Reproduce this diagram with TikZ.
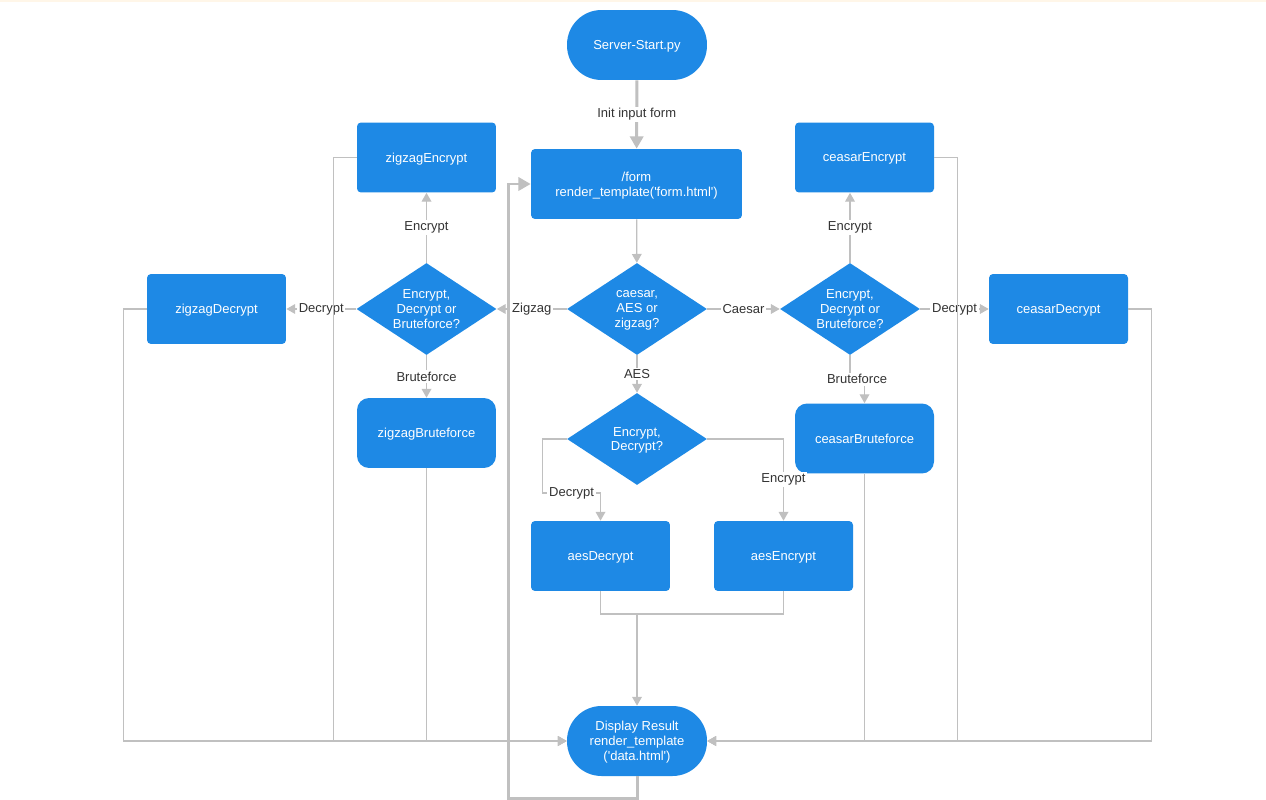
\documentclass[tikz,border=0pt]{standalone}
\usepackage{fontspec}
\setmainfont{Liberation Sans}
\usepackage{xcolor}
\usetikzlibrary{shapes.geometric,arrows.meta,positioning}
\definecolor{flowblue}{RGB}{30,137,229}
\definecolor{linegrey}{RGB}{192,192,192}
\definecolor{labeltext}{RGB}{51,51,51}
\definecolor{topline}{RGB}{255,246,232}
\newcommand{\flowfont}{\fontsize{7.4}{8.5}\selectfont}
\tikzset{
    task-box/.style = {fill=flowblue, draw=none, rectangle, rounded corners=0.08cm, minimum width=2.78cm, minimum height=1.4cm, text=white, font=\flowfont, align=center, text depth=0pt},
    soft-box/.style = {task-box, rounded corners=0.24cm},
    end-box/.style = {task-box, minimum width=2.8cm, rounded corners=0.69cm},
    choice/.style = {fill=flowblue, diamond, aspect=1.5, minimum width=2.8cm, minimum height=1.84cm, inner sep=1pt, text=white, font=\flowfont, align=center, text depth=0pt},
    link/.style = {draw=linegrey, line width=0.7pt, -{Triangle[length=5pt,width=5.5pt]}},
    plain-link/.style = {draw=linegrey, line width=0.7pt},
    main-link/.style = {draw=linegrey, line width=1.7pt, -{Triangle[length=7pt,width=7.5pt]}},
    link-label/.style = {fill=white, text=labeltext, font=\flowfont, inner sep=1pt},
}
\begin{document}
\begin{tikzpicture}[x=0.02cm, y=-0.02cm]
\fill[white] (0,0) rectangle (1266,800);
\fill[topline] (0,0) rectangle (1266,2);
\useasboundingbox (0,0) rectangle (1266,800);

% nodes
\node[end-box] (start) at (637,45) {Server-Start.py};
\node[task-box, minimum width=4.22cm] (form) at (636.5,184) {/form\\render\_template(\textquotesingle form.html\textquotesingle)};
\node[choice] (kind) at (637,309) {caesar,\\AES or\\zigzag?};
\node[choice] (zigzag) at (426.5,309) {Encrypt,\\Decrypt or\\Bruteforce?};
\node[choice] (caesar) at (850,309) {Encrypt,\\Decrypt or\\Bruteforce?};
\node[choice] (aes) at (637,439) {Encrypt,\\Decrypt?};
\node[task-box] (zigzag-enc) at (426.5,157.5) {zigzagEncrypt};
\node[task-box] (zigzag-dec) at (216.5,309) {zigzagDecrypt};
\node[soft-box] (zigzag-brute) at (426.5,433) {zigzagBruteforce};
\node[task-box] (caesar-enc) at (864.5,157.5) {ceasarEncrypt};
\node[task-box] (caesar-dec) at (1058.5,309) {ceasarDecrypt};
\node[soft-box] (caesar-brute) at (864.5,438.5) {ceasarBruteforce};
\node[task-box] (aes-dec) at (600.5,556) {aesDecrypt};
\node[task-box] (aes-enc) at (783.5,556) {aesEncrypt};
\node[end-box] (result) at (637,741) {Display Result\\render\_template\\(\textquotesingle data.html\textquotesingle)};
\coordinate (aes-join) at (637,614);

% connectors
\draw[main-link] (start) -- node[link-label]{Init input form} (form);
\draw[link] (form) -- (kind);
\draw[link] (kind) -- node[link-label]{Zigzag} (zigzag);
\draw[link] (kind) -- node[link-label]{Caesar} (caesar);
\draw[link] (kind) -- node[link-label]{AES} (aes);
\draw[link] (zigzag) -- node[link-label]{Encrypt} (zigzag-enc);
\draw[link] (zigzag) -- node[link-label]{Decrypt} (zigzag-dec);
\draw[link] (zigzag) -- node[link-label]{Bruteforce} (zigzag-brute);
\draw[link] (caesar) -- node[link-label]{Encrypt} (caesar.north |- caesar-enc.south);
\draw[link] (caesar) -- node[link-label]{Decrypt} (caesar-dec);
\draw[link] (caesar.south) -- ++(0,24) node[link-label, xshift=0.14cm]{Bruteforce} -| (caesar-brute.north);
\draw[link] (aes.west) -- ++(-24,0) -- ++(0,54) -| node[link-label, pos=0.25]{Decrypt} (aes-dec.north);
\draw[link] (aes.east) -| node[link-label, pos=0.75]{Encrypt} (aes-enc.north);
\draw[plain-link] (aes-dec.south) |- (aes-join) -| (aes-enc.south);
\draw[link] (aes-join) -- (result);

% results back to display
\draw[link] (zigzag-dec.west) -- ++(-23,0) |- (result.west);
\draw[link] (zigzag-enc.west) -- ++(-23,0) |- (result.west);
\draw[link] (zigzag-brute) |- (result.west);
\draw[link] (caesar-enc.east) -- ++(23,0) |- (result.east);
\draw[link] (caesar-dec.east) -- ++(23,0) |- (result.east);
\draw[link] (caesar-brute) |- (result.east);
\draw[main-link] (result.south) -- ++(0,22) -- ++(-129,0) |- (form.west);
\end{tikzpicture}
\end{document}
